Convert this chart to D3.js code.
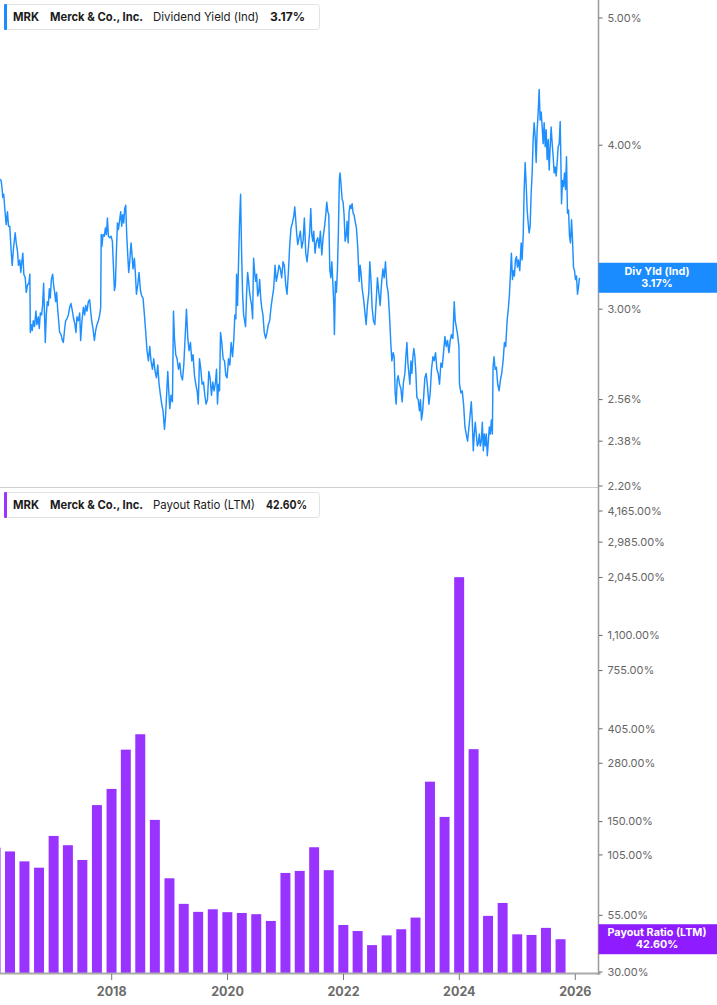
<!DOCTYPE html>
<html><head><meta charset="utf-8">
<script src="https://cdn.jsdelivr.net/npm/d3@7"></script>
<style>body{margin:0;background:#fff;}svg{display:block;font-family:Inter,"Noto Sans",sans-serif;}</style>
</head><body><svg id="c" width="717" height="1005"></svg>
<script>
const ticker = "MRK";
const company = "Merck & Co., Inc.";
const yieldSeriesName = "Dividend Yield (Ind)";
const yieldTagName = "Div Yld (Ind)";
const payoutSeriesName = "Payout Ratio (LTM)";

// Dividend yield: time in decimal years, value in %
const yieldTimes = [
2016.064,2016.093,2016.111,2016.121,2016.138,2016.156,2016.180,2016.202,2016.220,2016.242,
2016.266,2016.284,2016.306,2016.335,2016.353,2016.375,2016.392,2016.415,2016.432,2016.449,
2016.467,2016.484,2016.508,2016.526,2016.548,2016.571,2016.588,2016.596,2016.612,2016.629,
2016.647,2016.669,2016.692,2016.709,2016.733,2016.750,2016.768,2016.790,2016.807,2016.825,
2016.842,2016.854,2016.871,2016.888,2016.906,2016.923,2016.940,2016.958,2016.980,2016.997,
2017.015,2017.032,2017.049,2017.067,2017.084,2017.101,2017.124,2017.148,2017.165,2017.188,
2017.205,2017.227,2017.252,2017.274,2017.297,2017.321,2017.343,2017.366,2017.383,2017.400,
2017.424,2017.447,2017.464,2017.487,2017.511,2017.533,2017.551,2017.573,2017.597,2017.620,
2017.637,2017.654,2017.677,2017.701,2017.723,2017.746,2017.770,2017.793,2017.810,2017.819,
2017.832,2017.850,2017.874,2017.891,2017.908,2017.926,2017.943,2017.966,2017.988,2018.012,
2018.029,2018.047,2018.064,2018.081,2018.099,2018.116,2018.138,2018.156,2018.173,2018.190,
2018.207,2018.225,2018.242,2018.259,2018.277,2018.294,2018.311,2018.334,2018.351,2018.368,
2018.392,2018.410,2018.427,2018.450,2018.472,2018.496,2018.519,2018.541,2018.565,2018.588,
2018.610,2018.634,2018.657,2018.679,2018.704,2018.726,2018.749,2018.773,2018.795,2018.818,
2018.842,2018.864,2018.887,2018.911,2018.928,2018.946,2018.968,2018.985,2019.003,2019.025,
2019.049,2019.067,2019.084,2019.106,2019.129,2019.153,2019.176,2019.198,2019.222,2019.245,
2019.267,2019.291,2019.314,2019.336,2019.360,2019.383,2019.405,2019.430,2019.452,2019.475,
2019.495,2019.516,2019.539,2019.561,2019.585,2019.608,2019.630,2019.654,2019.677,2019.699,
2019.723,2019.746,2019.768,2019.793,2019.810,2019.827,2019.844,2019.862,2019.879,2019.901,
2019.924,2019.948,2019.971,2019.993,2020.017,2020.040,2020.062,2020.087,2020.109,2020.126,
2020.144,2020.156,2020.173,2020.190,2020.207,2020.225,2020.242,2020.259,2020.277,2020.294,
2020.311,2020.328,2020.346,2020.363,2020.380,2020.398,2020.415,2020.432,2020.449,2020.467,
2020.484,2020.501,2020.519,2020.536,2020.553,2020.571,2020.588,2020.610,2020.633,2020.657,
2020.680,2020.702,2020.726,2020.749,2020.771,2020.795,2020.818,2020.840,2020.864,2020.887,
2020.909,2020.933,2020.956,2020.978,2021.003,2021.025,2021.048,2021.072,2021.094,2021.117,
2021.141,2021.158,2021.175,2021.193,2021.210,2021.232,2021.255,2021.279,2021.302,2021.324,
2021.348,2021.371,2021.393,2021.417,2021.435,2021.452,2021.469,2021.486,2021.509,2021.532,
2021.556,2021.578,2021.601,2021.625,2021.647,2021.670,2021.694,2021.711,2021.729,2021.746,
2021.763,2021.781,2021.798,2021.815,2021.833,2021.843,2021.860,2021.877,2021.895,2021.912,
2021.929,2021.941,2021.958,2021.976,2021.993,2022.010,2022.028,2022.045,2022.062,2022.080,
2022.097,2022.114,2022.132,2022.149,2022.166,2022.183,2022.201,2022.223,2022.247,2022.270,
2022.287,2022.304,2022.322,2022.344,2022.368,2022.391,2022.413,2022.437,2022.454,2022.472,
2022.494,2022.517,2022.541,2022.564,2022.586,2022.610,2022.633,2022.655,2022.680,2022.702,
2022.725,2022.749,2022.771,2022.794,2022.818,2022.835,2022.858,2022.875,2022.892,2022.910,
2022.927,2022.944,2022.967,2022.991,2023.013,2023.036,2023.060,2023.077,2023.095,2023.112,
2023.129,2023.146,2023.164,2023.181,2023.198,2023.215,2023.233,2023.250,2023.267,2023.290,
2023.312,2023.329,2023.347,2023.364,2023.381,2023.405,2023.428,2023.450,2023.475,2023.497,
2023.520,2023.544,2023.566,2023.589,2023.613,2023.635,2023.658,2023.682,2023.705,2023.727,
2023.751,2023.774,2023.796,2023.820,2023.843,2023.865,2023.889,2023.912,2023.929,2023.947,
2023.969,2023.993,2024.003,2024.028,2024.050,2024.073,2024.097,2024.119,2024.142,2024.166,
2024.189,2024.206,2024.223,2024.240,2024.258,2024.275,2024.292,2024.310,2024.327,2024.344,
2024.361,2024.379,2024.396,2024.413,2024.431,2024.448,2024.465,2024.482,2024.500,2024.517,
2024.534,2024.552,2024.569,2024.581,2024.598,2024.616,2024.638,2024.661,2024.685,2024.708,
2024.730,2024.754,2024.777,2024.799,2024.823,2024.846,2024.863,2024.880,2024.897,2024.915,
2024.932,2024.949,2024.966,2024.984,2025.001,2025.018,2025.041,2025.065,2025.082,2025.100,
2025.117,2025.134,2025.151,2025.169,2025.186,2025.203,2025.220,2025.238,2025.255,2025.272,
2025.289,2025.307,2025.324,2025.341,2025.358,2025.376,2025.393,2025.411,2025.428,2025.445,
2025.462,2025.480,2025.497,2025.514,2025.532,2025.549,2025.566,2025.583,2025.601,2025.618,
2025.635,2025.653,2025.670,2025.687,2025.704,2025.722,2025.739,2025.749,2025.762,2025.779,
2025.796,2025.814,2025.831,2025.848,2025.865,2025.883,2025.900,2025.917,2025.935,2025.952,
2025.969,2025.986,2026.004,2026.021,2026.038,2026.055,2026.072];
const yieldValues = [
3.77,3.76,3.70,3.65,3.67,3.58,3.48,3.56,3.47,3.47,
3.32,3.24,3.34,3.43,3.37,3.32,3.24,3.27,3.20,3.26,
3.31,3.19,3.17,3.09,3.13,3.14,3.19,2.88,2.92,2.89,
2.94,2.91,2.99,2.92,2.96,2.90,2.98,2.97,3.02,3.14,
2.95,2.83,2.97,3.04,3.02,3.11,3.06,3.16,3.19,3.13,
3.09,3.04,3.09,3.00,2.94,2.88,2.87,2.84,2.83,2.90,
2.94,2.95,2.97,3.01,3.03,2.99,2.95,2.92,2.88,2.96,
2.94,2.98,2.84,2.94,3.01,2.97,3.02,2.99,3.04,3.05,
2.99,2.94,2.90,2.84,2.89,2.92,2.94,2.97,3.01,3.42,
3.35,3.42,3.41,3.46,3.42,3.52,3.41,3.40,3.41,3.38,
3.24,3.10,3.13,3.32,3.49,3.45,3.51,3.56,3.47,3.54,
3.49,3.58,3.60,3.42,3.30,3.20,3.26,3.37,3.30,3.22,
3.28,3.19,3.08,3.13,3.20,3.10,3.07,3.06,2.97,2.88,
2.79,2.74,2.81,2.74,2.70,2.75,2.69,2.66,2.72,2.63,
2.58,2.54,2.51,2.43,2.48,2.57,2.69,2.60,2.52,2.58,
2.55,2.99,2.85,2.77,2.75,2.70,2.73,2.67,2.65,2.72,
2.85,3.00,2.85,2.79,2.83,2.74,2.77,2.67,2.63,2.60,
2.54,2.75,2.70,2.63,2.64,2.58,2.54,2.56,2.69,2.66,
2.58,2.64,2.60,2.64,2.70,2.54,2.63,2.60,2.88,2.83,
2.75,2.74,2.67,2.66,2.75,2.72,2.83,2.76,2.85,2.97,
2.95,3.19,3.02,3.26,3.49,3.67,3.32,3.09,2.97,2.94,
2.91,3.08,3.20,3.15,3.09,3.05,3.02,2.95,3.28,3.20,
3.15,3.19,3.07,3.09,3.16,3.06,3.01,2.97,2.88,2.85,
2.88,2.92,2.94,3.01,3.06,3.11,3.24,3.15,3.19,3.24,
3.22,3.17,3.26,3.24,3.13,3.08,3.20,3.36,3.46,3.49,
3.53,3.59,3.51,3.42,3.36,3.40,3.44,3.34,3.38,3.52,
3.31,3.26,3.34,3.44,3.58,3.42,3.38,3.44,3.31,3.38,
3.40,3.34,3.44,3.30,3.40,3.46,3.54,3.62,3.56,3.54,
3.22,3.17,3.26,3.15,3.02,2.87,3.15,3.09,3.21,3.44,
3.77,3.81,3.73,3.64,3.62,3.54,3.38,3.41,3.50,3.37,
3.56,3.60,3.58,3.61,3.55,3.54,3.50,3.46,3.34,3.15,
3.24,3.19,3.11,3.06,2.99,2.92,3.02,3.09,3.26,3.17,
3.01,2.94,2.92,3.04,3.17,3.09,3.02,3.13,3.22,3.17,
3.26,3.13,3.09,2.97,2.82,2.74,2.78,2.76,2.59,2.54,
2.65,2.67,2.63,2.61,2.55,2.64,2.68,2.76,2.83,2.73,
2.68,2.63,2.74,2.68,2.76,2.80,2.76,2.68,2.57,2.56,
2.51,2.56,2.47,2.50,2.56,2.66,2.68,2.62,2.54,2.59,
2.70,2.76,2.74,2.78,2.70,2.68,2.63,2.73,2.71,2.78,
2.86,2.81,2.84,2.78,2.84,2.87,2.85,3.04,2.94,2.91,
2.87,2.81,2.63,2.59,2.60,2.54,2.44,2.41,2.38,2.44,
2.50,2.55,2.47,2.34,2.41,2.46,2.41,2.36,2.37,2.41,
2.36,2.38,2.46,2.34,2.41,2.36,2.41,2.32,2.38,2.44,
2.41,2.47,2.41,2.71,2.76,2.70,2.71,2.63,2.60,2.65,
2.68,2.74,2.83,2.81,2.94,3.01,3.08,3.19,3.31,3.16,
3.21,3.18,3.27,3.29,3.23,3.27,3.21,3.37,3.27,3.41,
3.70,3.88,3.74,3.57,3.49,3.43,3.47,3.68,3.81,4.04,
4.16,4.06,3.88,4.11,4.23,4.41,4.18,4.24,4.13,4.01,
4.16,3.99,4.11,3.90,4.04,3.83,3.99,4.13,4.01,3.92,
3.81,3.85,3.79,3.88,3.99,4.01,4.17,3.94,3.61,3.76,
3.72,3.81,3.70,3.92,3.55,3.57,3.41,3.37,3.51,3.39,
3.23,3.21,3.16,3.18,3.08,3.12,3.17];
const yieldTicks = [5.00, 4.00, 3.00, 2.56, 2.38, 2.20];

// Payout ratio (LTM), quarterly, in %
const payoutDates = [
"2015-12-31",
"2016-03-31","2016-06-30","2016-09-30","2016-12-31",
"2017-03-31","2017-06-30","2017-09-30","2017-12-31",
"2018-03-31","2018-06-30","2018-09-30","2018-12-31",
"2019-03-31","2019-06-30","2019-09-30","2019-12-31",
"2020-03-31","2020-06-30","2020-09-30","2020-12-31",
"2021-03-31","2021-06-30","2021-09-30","2021-12-31",
"2022-03-31","2022-06-30","2022-09-30","2022-12-31",
"2023-03-31","2023-06-30","2023-09-30","2023-12-31",
"2024-03-31","2024-06-30","2024-09-30","2024-12-31",
"2025-03-31","2025-06-30","2025-09-30"];
const payoutValues = [
113.5,
109, 98, 91.6, 128.7,
116.5, 99.5, 179, 212.8,
324, 382, 152.8, 81.8,
62.2, 57.1, 58.7, 56.9,
56.4, 55.7, 51.8, 86.6,
88.5, 114, 89.2, 49.6,
46.5, 40, 44.4, 47.4,
53.7, 230, 157.7, 2052,
325.6, 54.7, 62.8, 44.9,
44.6, 48.1, 42.6];
const payoutTicks = [4165, 2985, 2045, 1100, 755, 405, 280, 150, 105, 55, 30];
const yearTicks = ["2018", "2020", "2022", "2024", "2026"];

const blue = "#1a8cff", purple = "#9933ff", purpleTag = "#8f1cff";
const svg = d3.select("#c");
const axisX = 598.5;

function toDate(t){ const y = Math.floor(t); const s = Date.UTC(y,0,1), e = Date.UTC(y+1,0,1); return new Date(s + (t-y)*(e-s)); }
const parse = d3.utcParse("%Y-%m-%d");

const x = d3.scaleUtc().domain([new Date(Date.UTC(2018,0,1)), new Date(Date.UTC(2026,0,1))]).range([111.7, 575.3]);
const yTop = d3.scaleLog().domain([2.2, 5]).range([486, 18]);
const yBot = d3.scaleLog().domain([30, 4165]).range([972, 511]);

const defs = svg.append("defs");
defs.append("clipPath").attr("id","clipTop").append("rect").attr("x",0).attr("y",0).attr("width",axisX).attr("height",487);
defs.append("clipPath").attr("id","clipBot").append("rect").attr("x",0).attr("y",488).attr("width",axisX).attr("height",486);

// ---- top: dividend yield line
const yieldData = yieldTimes.map((t,i)=>({date: toDate(t), v: yieldValues[i]}));
svg.append("g").attr("clip-path","url(#clipTop)")
  .append("path").datum(yieldData)
  .attr("fill","none").attr("stroke","#1e8fff").attr("stroke-width",1.45).attr("stroke-linejoin","round")
  .attr("d", d3.line().x(d=>x(d.date)).y(d=>yTop(d.v)));

// separator
svg.append("line").attr("x1",0).attr("x2",axisX).attr("y1",487.5).attr("y2",487.5).attr("stroke","#cfcfcf").attr("stroke-width",1);

// ---- bottom: payout ratio bars
const payoutData = payoutDates.map((d,i)=>({date: parse(d), v: payoutValues[i]}));
const qStep = x(parse("2020-03-31")) - x(parse("2019-12-31"));
const bw = qStep*0.69;
svg.append("g").attr("clip-path","url(#clipBot)")
  .selectAll("rect").data(payoutData).join("rect")
  .attr("x", d=>x(d.date)-bw/2).attr("width", bw)
  .attr("y", d=>yBot(d.v)).attr("height", d=>973 - yBot(d.v))
  .attr("fill", purple);

// ---- x axis
svg.append("line").attr("x1",0).attr("x2",axisX+2).attr("y1",973.5).attr("y2",973.5).attr("stroke","#aaaaaa").attr("stroke-width",2);
const xg = svg.append("g");
yearTicks.forEach(yr=>{
  const px = x(parse(yr+"-01-01"));
  xg.append("line").attr("x1",px).attr("x2",px).attr("y1",974).attr("y2",980).attr("stroke","#777").attr("stroke-width",1);
  xg.append("text").attr("x",px).attr("y",995.5).attr("text-anchor","middle")
    .attr("font-size",12.5).attr("font-weight",700).attr("fill","#6b6b6b").text(yr);
});

// ---- right axis
svg.append("line").attr("x1",axisX).attr("x2",axisX).attr("y1",0).attr("y2",975).attr("stroke","#9a9a9a").attr("stroke-width",1.5);
const fmtTop = v => d3.format(".2f")(v) + "%";
const fmtBot = v => d3.format(",.2f")(v) + "%";
function yTicks(scale, ticks, fmt){
  const g = svg.append("g");
  ticks.forEach(v=>{
    const py = scale(v);
    g.append("line").attr("x1",axisX+0.5).attr("x2",axisX+4).attr("y1",py).attr("y2",py).attr("stroke","#666").attr("stroke-width",1);
    g.append("text").attr("x",607.5).attr("y",py).attr("dy","0.35em").attr("font-size",11).attr("fill","#666").text(fmt(v));
  });
}
yTicks(yTop, yieldTicks, fmtTop);
yTicks(yBot, payoutTicks, fmtBot);

// ---- value tags on axis
function tag(py, color, line1, line2){
  svg.append("rect").attr("x",axisX).attr("y",py-15).attr("width",717-axisX).attr("height",30).attr("fill",color);
  svg.append("text").attr("x",657).attr("y",py-3).attr("text-anchor","middle").attr("font-size",10.8).attr("font-weight",700).attr("fill","#fff").text(line1);
  svg.append("text").attr("x",657).attr("y",py+9).attr("text-anchor","middle").attr("font-size",10.8).attr("font-weight",700).attr("fill","#fff").text(line2);
}
const lastYield = yieldValues[yieldValues.length-1];
const lastPayout = payoutValues[payoutValues.length-1];
tag(yTop(lastYield), blue, yieldTagName, fmtTop(lastYield));
tag(yBot(lastPayout), purpleTag, payoutSeriesName, fmtBot(lastPayout));

// ---- legends (each text fitted to the span it takes in the reference)
function legend(y0, color, parts){
  const g = svg.append("g");
  g.append("rect").attr("x",4.5).attr("y",y0+0.5).attr("width",315).attr("height",25).attr("rx",3).attr("fill","#fff").attr("stroke","#e2e2e2");
  g.append("rect").attr("x",4).attr("y",y0).attr("width",3).attr("height",26).attr("rx",1).attr("fill",color);
  const ty = y0 + 17;
  parts.forEach(p=>{
    g.append("text").attr("x",p.x).attr("y",ty).attr("font-size",12).attr("font-weight",p.w)
      .attr("fill","#1c1c1c").attr("textLength",p.len).attr("lengthAdjust","spacingAndGlyphs").text(p.t);
  });
}
legend(4, blue, [
  {t:ticker, x:13, len:26, w:700},
  {t:company, x:50, len:93, w:700},
  {t:yieldSeriesName, x:153, len:106, w:400},
  {t:fmtTop(lastYield), x:270, len:35, w:700}]);
legend(492, purple, [
  {t:ticker, x:13, len:26, w:700},
  {t:company, x:50, len:93, w:700},
  {t:payoutSeriesName, x:153, len:102, w:400},
  {t:fmtBot(lastPayout), x:266, len:41, w:700}]);
</script></body></html>
